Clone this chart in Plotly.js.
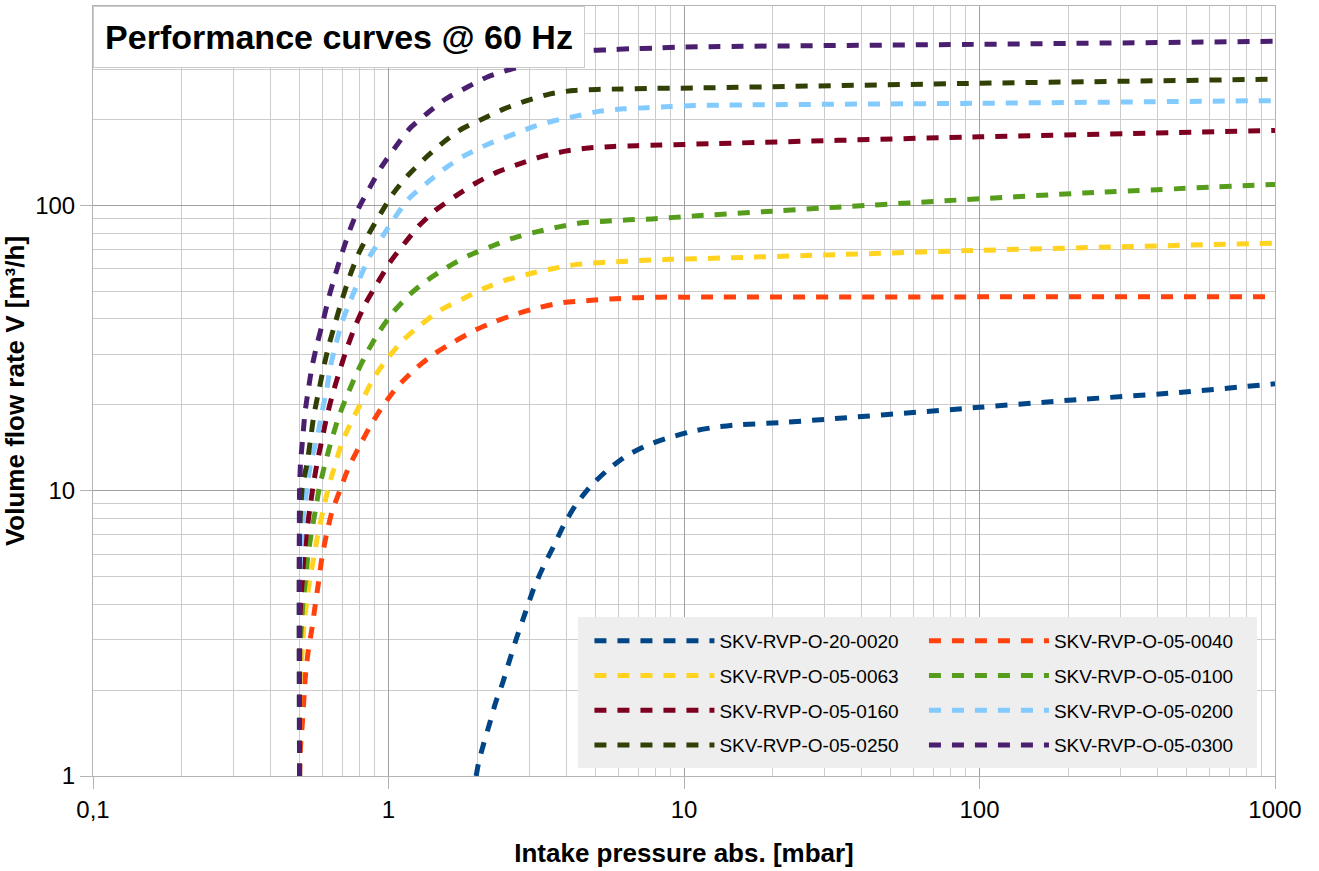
<!DOCTYPE html>
<html>
<head>
<meta charset="utf-8">
<script src="https://cdn.plot.ly/plotly-3.0.1.min.js"></script>
<style>
  html, body { margin: 0; padding: 0; background: #ffffff; }
  #chart { width: 1319px; height: 871px; }
</style>
</head>
<body>
<div id="chart"></div>
<script>
// ---------- DATA ----------
const seriesNames = [
  'SKV-RVP-O-20-0020', 'SKV-RVP-O-05-0040',
  'SKV-RVP-O-05-0063', 'SKV-RVP-O-05-0100',
  'SKV-RVP-O-05-0160', 'SKV-RVP-O-05-0200',
  'SKV-RVP-O-05-0250', 'SKV-RVP-O-05-0300'
];

// Intake pressure [mbar] / volume flow rate [m3/h]
const p0020 = [1.98, 2.02, 2.10, 2.20, 2.30, 2.43, 2.57, 2.72, 2.91, 3.10, 3.34, 3.61, 3.92, 4.30, 4.82, 5.5, 6.42, 7.6, 9.0, 10.8, 12.8, 15.1, 22.5, 100, 207, 450, 1000];
const v0020 = [1.0, 1.12, 1.30, 1.53, 1.80, 2.11, 2.55, 3.07, 3.76, 4.54, 5.41, 6.35, 7.58, 8.92, 10.35, 11.8, 13.3, 14.5, 15.4, 16.2, 16.7, 17.0, 17.4, 19.6, 20.8, 22.0, 23.7];

const p0040 = [0.5, 0.504, 0.511, 0.517, 0.523, 0.534, 0.551, 0.565, 0.580, 0.595, 0.616, 0.643, 0.684, 0.734, 0.794, 0.869, 0.96, 1.07, 1.22, 1.41, 1.66, 1.97, 2.30, 2.72, 3.27, 3.92, 4.76, 5.63, 6.94, 8.33, 10, 100, 1000];
const v0040 = [1.0, 1.27, 1.53, 1.85, 2.23, 2.7, 3.3, 3.97, 4.79, 5.8, 6.99, 8.4, 10.0, 12.1, 14.2, 16.9, 19.9, 23.1, 26.5, 29.9, 33.2, 36.6, 39.2, 41.7, 44.0, 45.7, 46.4, 47.0, 47.5, 47.7, 47.7, 47.8, 47.8];

const p0063 = [0.5, 0.501, 0.504, 0.511, 0.517, 0.528, 0.541, 0.559, 0.578, 0.600, 0.627, 0.662, 0.697, 0.754, 0.815, 0.89, 0.99, 1.12, 1.28, 1.50, 1.78, 2.10, 2.49, 2.98, 3.58, 4.30, 5.15, 6.17, 7.4, 8.98, 10.9, 34, 100, 1000];
const v0063 = [1.0, 1.92, 2.32, 2.76, 3.33, 4.04, 4.86, 5.86, 7.1, 8.5, 10.3, 12.5, 14.8, 17.7, 20.7, 24.8, 29.0, 33.7, 38.0, 43.0, 47.0, 51.1, 54.7, 57.5, 60.0, 62.0, 63.0, 63.6, 64.2, 64.7, 65.0, 67.3, 69.6, 73.8];

const p0100 = [0.5, 0.501, 0.507, 0.513, 0.524, 0.533, 0.548, 0.566, 0.584, 0.612, 0.641, 0.679, 0.725, 0.779, 0.847, 0.927, 1.04, 1.18, 1.33, 1.58, 1.87, 2.21, 2.62, 3.14, 3.77, 4.52, 5.42, 6.5, 7.8, 9.26, 11.1, 20, 33, 100, 225, 1000];
const v0100 = [1.0, 2.76, 3.33, 4.04, 4.86, 5.86, 7.1, 8.55, 10.3, 12.6, 15.0, 18.2, 21.6, 25.7, 30.6, 35.9, 42.4, 48.7, 54.0, 60.7, 66.7, 71.6, 76.6, 80.6, 84.1, 86.9, 88.0, 89.0, 89.7, 90.8, 92.0, 95.5, 98.6, 105.5, 110.5, 118.5];

const p0160 = [0.5, 0.501, 0.504, 0.511, 0.517, 0.528, 0.541, 0.556, 0.574, 0.597, 0.62, 0.65, 0.684, 0.725, 0.773, 0.836, 0.916, 1.01, 1.13, 1.27, 1.44, 1.69, 1.97, 2.33, 2.76, 3.27, 3.97, 4.76, 5.78, 6.94, 8.33, 10, 100, 1000];
const v0160 = [1.0, 3.33, 4.04, 4.86, 5.86, 7.1, 8.55, 10.4, 12.6, 15.3, 18.4, 22.2, 26.4, 31.8, 37.9, 45.3, 53.3, 63.0, 73.4, 85.0, 96.0, 108.0, 119.6, 130.8, 139.6, 148.0, 155.0, 159.0, 161.0, 162.0, 162.7, 163.6, 174.0, 183.0];

const p0200 = [0.5, 0.5, 0.504, 0.51, 0.517, 0.531, 0.545, 0.574, 0.594, 0.617, 0.636, 0.662, 0.697, 0.744, 0.798, 0.862, 0.952, 1.05, 1.17, 1.35, 1.58, 1.82, 2.16, 2.59, 3.06, 3.63, 4.35, 5.2, 6.25, 7.5, 9.0, 10.8, 100, 1000];
const v0200 = [1.0, 4.86, 5.86, 7.1, 8.5, 10.3, 12.5, 15.4, 18.6, 22.5, 27.2, 32.3, 39.1, 46.5, 55.3, 66.0, 77.6, 90.6, 105.4, 120.0, 136.6, 150.0, 163.6, 176.0, 188.0, 198.0, 206.0, 214.0, 218.0, 220.0, 222.0, 224.0, 228.0, 233.0];

const p0250 = [0.5, 0.5, 0.504, 0.511, 0.531, 0.545, 0.559, 0.58, 0.602, 0.628, 0.662, 0.697, 0.738, 0.79, 0.858, 0.94, 1.04, 1.16, 1.33, 1.54, 1.78, 2.08, 2.46, 2.94, 3.53, 4.24, 5.08, 6.17, 7.5, 10.8, 100, 1000];
const v0250 = [1.0, 7.1, 8.5, 10.3, 12.6, 15.2, 18.4, 22.2, 26.8, 32.3, 39.1, 46.9, 56.2, 67.4, 79.5, 93.6, 110.5, 127.0, 146.3, 167.0, 186.0, 201.0, 218.0, 233.0, 246.0, 253.0, 255.0, 256.0, 257.0, 258.0, 268.0, 277.0];

const p0300 = [0.5, 0.5, 0.504, 0.513, 0.521, 0.535, 0.551, 0.574, 0.602, 0.628, 0.662, 0.697, 0.74, 0.793, 0.862, 0.947, 1.05, 1.18, 1.35, 1.56, 1.85, 2.16, 2.59, 4.64, 5.5, 6.58, 7.87, 9.7, 100, 1000];
const v0300 = [1.0, 10.0, 12.6, 15.4, 18.6, 22.5, 27.2, 32.8, 39.7, 47.6, 57.6, 68.4, 82.0, 98.0, 115.0, 136.5, 159.0, 186.0, 210.0, 236.0, 260.0, 282.0, 300.0, 348.0, 351.0, 354.0, 356.0, 359.0, 367.0, 376.0];

const xTickVals = [0.1, 1, 10, 100, 1000];
const xTickText = ['0,1', '1', '10', '100', '1000'];
const yTickVals = [1, 10, 100];
const yTickText = ['1', '10', '100'];

// ---------- STYLE ----------
const seriesX = [p0020, p0040, p0063, p0100, p0160, p0200, p0250, p0300];
const seriesY = [v0020, v0040, v0063, v0100, v0160, v0200, v0250, v0300];
const colors = ['#004586', '#ff420e', '#ffd320', '#579d1c', '#7e0021', '#83caff', '#314004', '#4b1f6f'];
const FONT = '"Liberation Sans", Arial, sans-serif';

const traces = seriesNames.map((name, i) => ({
  type: 'scatter',
  mode: 'lines',
  name: name,
  x: seriesX[i],
  y: seriesY[i],
  legend: (i % 2 === 0) ? 'legend' : 'legend2',
  legendgroup: 'g' + i,
  line: { color: colors[i], width: 5, dash: '12px,11px', shape: 'spline', smoothing: 0.6 },
  hoverinfo: 'skip'
}));

const legendCommon = {
  yanchor: 'top', xanchor: 'left',
  bgcolor: 'rgba(0,0,0,0)', borderwidth: 0,
  font: { family: FONT, size: 19, color: '#000000' },
  itemwidth: 120, tracegroupgap: 7, traceorder: 'grouped'
};

const layout = {
  width: 1319, height: 871,
  margin: { l: 93, r: 44, t: 6, b: 95, pad: 0 },
  paper_bgcolor: '#ffffff', plot_bgcolor: '#ffffff',
  font: { family: FONT, color: '#000000' },
  showlegend: true,
  xaxis: {
    type: 'log', range: [-1, 3],
    tickmode: 'array', tickvals: xTickVals, ticktext: xTickText,
    ticks: 'outside', ticklen: 12, tickcolor: '#b3b3b3', tickwidth: 1,
    tickfont: { family: FONT, size: 24, color: '#000000' },
    showgrid: true, gridcolor: '#a0a0a0', gridwidth: 1,
    minor: { dtick: 'D1', showgrid: true, gridcolor: '#cccccc', gridwidth: 1, ticks: '' },
    showline: true, mirror: true, linecolor: '#b3b3b3', linewidth: 1,
    zeroline: false,
    title: { text: 'Intake pressure abs. [mbar]', font: { family: FONT, size: 26, weight: 'bold', color: '#000000' }, standoff: 22 }
  },
  yaxis: {
    type: 'log', range: [0, Math.log10(500)],
    tickmode: 'array', tickvals: yTickVals, ticktext: yTickText,
    ticks: 'outside', ticklen: 12, tickcolor: '#b3b3b3', tickwidth: 1,
    tickfont: { family: FONT, size: 24, color: '#000000' },
    showgrid: true, gridcolor: '#a0a0a0', gridwidth: 1,
    minor: { dtick: 'D1', showgrid: true, gridcolor: '#cccccc', gridwidth: 1, ticks: '' },
    showline: true, mirror: true, linecolor: '#b3b3b3', linewidth: 1,
    zeroline: false,
    title: { text: 'Volume flow rate V [m³/h]', font: { family: FONT, size: 26, weight: 'bold', color: '#000000' }, standoff: 6 }
  },
  legend: Object.assign({ x: 0.42, y: 0.2 }, legendCommon),
  legend2: Object.assign({ x: 0.703, y: 0.2 }, legendCommon),
  shapes: [{
    type: 'rect', xref: 'paper', yref: 'paper',
    x0: 0.4103, x1: 0.9848, y0: 0.0104, y1: 0.2065,
    fillcolor: '#eeeeee', line: { width: 0 }, layer: 'above'
  }],
  annotations: [{
    text: 'Performance curves @ 60 Hz',
    xref: 'paper', yref: 'paper', x: 0, y: 1,
    xanchor: 'left', yanchor: 'top', showarrow: false,
    width: 474, height: 44, align: 'center', valign: 'middle',
    bgcolor: '#ffffff', bordercolor: '#cccccc', borderwidth: 1, borderpad: 8,
    font: { family: FONT, size: 34, weight: 'bold', color: '#000000' }
  }]
};

Plotly.newPlot('chart', traces, layout, { displayModeBar: false, staticPlot: true });
</script>
</body>
</html>
